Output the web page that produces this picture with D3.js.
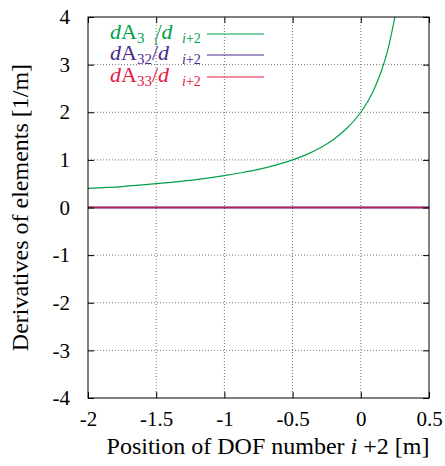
<!DOCTYPE html>
<html>
<head>
<meta charset="UTF-8">
<script src="https://d3js.org/d3.v7.min.js"></script>
</head>
<body style="margin:0">
<svg width="445" height="466"></svg>
<script>
// data
const xTicks = [-2, -1.5, -1, -0.5, 0, 0.5];
const yTicks = [-4, -3, -2, -1, 0, 1, 2, 3, 4];

const greenX = [-2, -1.75, -1.5, -1.25, -1, -0.875, -0.75, -0.625, -0.5, -0.4, -0.3, -0.2, -0.1, 0, 0.05, 0.1, 0.15, 0.2, 0.25];
const greenY = [0.40, 0.44, 0.50, 0.57, 0.67, 0.73, 0.80, 0.89, 1.00, 1.11, 1.25, 1.43, 1.67, 2.00, 2.22, 2.50, 2.86, 3.33, 4.00];
const flatX = [-2, -1.5, -1, -0.5, 0, 0.5];
const purpleY = [0, 0, 0, 0, 0, 0];
const redY = [0, 0, 0, 0, 0, 0];

const colors = { green: "#00a048", purple: "#4a2a8c", red: "#e8173f" };
const serif = '"Liberation Serif"';

const margin = { top: 17, left: 88, right: 16, bottom: 68 };
const width = 445, height = 466;

const svg = d3.select("svg");

const x = d3.scaleLinear().domain([-2, 0.5]).range([margin.left, width - margin.right]);
const y = d3.scaleLinear().domain([-4, 4]).range([height - margin.bottom, margin.top]);

// dotted grid
const grid = svg.append("g")
    .attr("stroke", "#777").attr("stroke-dasharray", "1,2");
grid.selectAll(".gx").data(xTicks.slice(1, -1)).enter().append("line")
    .attr("x1", d => x(d)).attr("x2", d => x(d))
    .attr("y1", y(-4)).attr("y2", y(4));
grid.selectAll(".gy").data(yTicks.slice(1, -1)).enter().append("line")
    .attr("y1", d => y(d)).attr("y2", d => y(d))
    .attr("x1", x(-2)).attr("x2", x(0.5));

// clip for curves
svg.append("clipPath").attr("id", "plot")
  .append("rect")
    .attr("x", x(-2)).attr("y", y(4))
    .attr("width", x(0.5) - x(-2)).attr("height", y(-4) - y(4));

const line = d3.line()
    .x(d => x(d[0]))
    .y(d => y(d[1]))
    .curve(d3.curveMonotoneX);

const curves = svg.append("g").attr("clip-path", "url(#plot)");
curves.append("path")
    .datum(greenX.map((v, i) => [v, greenY[i]]))
    .attr("fill", "none").attr("stroke", colors.green).attr("stroke-width", 1.2)
    .attr("d", line);
curves.append("path")
    .datum(flatX.map((v, i) => [v, purpleY[i]]))
    .attr("fill", "none").attr("stroke", colors.purple).attr("stroke-width", 2)
    .attr("d", line);
curves.append("path")
    .datum(flatX.map((v, i) => [v, redY[i]]))
    .attr("fill", "none").attr("stroke", colors.red).attr("stroke-width", 1.5)
    .attr("stroke-opacity", 0.7)
    .attr("d", line);

// axes with inward ticks, mirrored on all sides
const tickLen = 6;
svg.append("g")
    .attr("transform", `translate(0,${y(-4)})`)
    .call(d3.axisBottom(x).tickValues(xTicks).tickSizeInner(-tickLen).tickSizeOuter(0).tickPadding(13)
        .tickFormat(d => String(d)))
    .call(g => g.select(".domain").remove());
svg.append("g")
    .attr("transform", `translate(0,${y(4)})`)
    .call(d3.axisTop(x).tickValues(xTicks).tickSizeInner(-tickLen).tickSizeOuter(0).tickFormat(""))
    .call(g => g.select(".domain").remove());
svg.append("g")
    .attr("transform", `translate(${x(-2)},0)`)
    .call(d3.axisLeft(y).tickValues(yTicks).tickSizeInner(-tickLen).tickSizeOuter(0).tickPadding(18)
        .tickFormat(d => String(d)))
    .call(g => g.select(".domain").remove());
svg.append("g")
    .attr("transform", `translate(${x(0.5)},0)`)
    .call(d3.axisRight(y).tickValues(yTicks).tickSizeInner(-tickLen).tickSizeOuter(0).tickFormat(""))
    .call(g => g.select(".domain").remove());
svg.selectAll(".tick line").attr("stroke", "#000");
svg.selectAll(".tick text")
    .attr("fill", "#000")
    .style("font-family", serif)
    .style("font-size", "21px");

// frame
svg.append("rect")
    .attr("x", x(-2)).attr("y", y(4))
    .attr("width", x(0.5) - x(-2)).attr("height", y(-4) - y(4))
    .attr("fill", "none").attr("stroke", "#000").attr("stroke-width", 1);

// axis labels
svg.append("text")
    .attr("x", 268).attr("y", 454)
    .attr("text-anchor", "middle")
    .style("font-family", serif).style("font-size", "24px")
    .html('Position of DOF number <tspan font-style="italic">i</tspan> +2 [m]');
svg.append("text")
    .attr("transform", `translate(28,${y(0)}) rotate(-90)`)
    .attr("text-anchor", "middle")
    .style("font-family", serif).style("font-size", "24px")
    .text("Derivatives of elements [1/m]");

// legend
const legend = [
  { sub: "3", extra: "1", color: colors.green, y: 34 },
  { sub: "32", extra: "", color: colors.purple, y: 55 },
  { sub: "33", extra: "", color: colors.red, y: 77 }
];
const lg = svg.append("g");
legend.forEach(item => {
  const t = lg.append("text")
      .attr("x", 110).attr("y", item.y + 5)
      .style("fill", item.color).style("font-family", serif).style("font-size", "22px");
  t.append("tspan").attr("font-style", "italic").text("d");
  t.append("tspan").text("A");
  t.append("tspan").attr("dy", 4).style("font-size", "15px").text(item.sub);
  t.append("tspan").attr("dy", -4).text(item.extra ? "\u2002/" : "/");
  t.append("tspan").attr("font-style", "italic").text("d");
  if (item.extra) {
    lg.append("text").attr("x", 153).attr("y", item.y + 11)
      .style("fill", item.color).style("font-family", serif).style("font-size", "11px").text(item.extra);
  }
  lg.append("text").attr("x", 182).attr("y", item.y + 9)
      .style("fill", item.color).style("font-family", serif).style("font-size", "14px")
      .html('<tspan font-style="italic">i</tspan>+2');
  lg.append("line")
      .attr("x1", 207).attr("x2", 264)
      .attr("y1", item.y).attr("y2", item.y)
      .attr("stroke", item.color).attr("stroke-width", 1.2);
});
</script>
</body>
</html>
